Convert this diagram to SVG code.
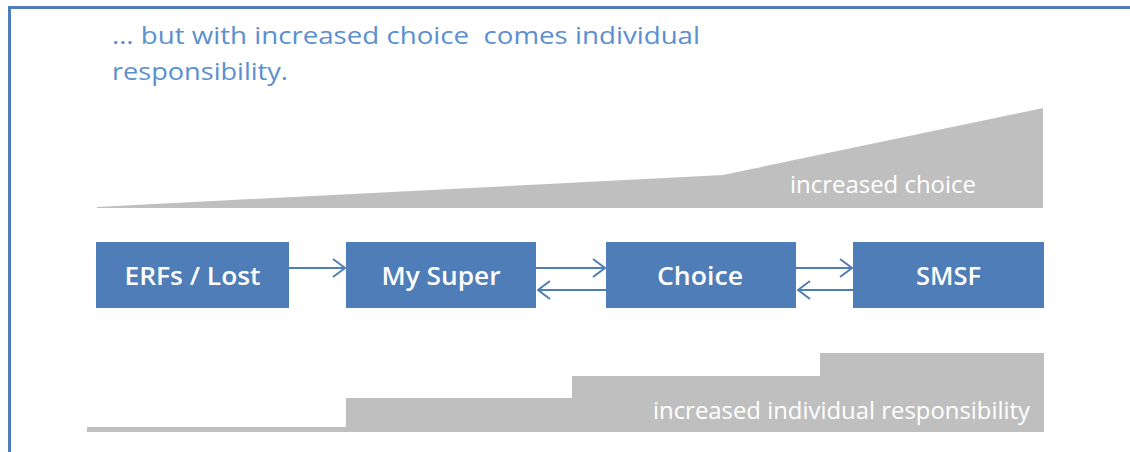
<svg xmlns="http://www.w3.org/2000/svg" width="1130" height="452" viewBox="0 0 1130 452">
<style>
.box{fill:#4f7db8}
.bt{font-family:"Open Sans","Liberation Sans",sans-serif;font-size:26px;font-weight:600;fill:#ffffff;text-anchor:middle}
.gt{font-family:"Open Sans","Liberation Sans",sans-serif;font-size:24px;fill:#ffffff}
.gray{fill:#bfbfbf}
.title{font-family:"Open Sans","Liberation Sans",sans-serif;font-size:24px;fill:#5b8fd0}
.conn{stroke:#4f7db8;stroke-width:2;fill:none;marker-end:url(#chev)}
</style>
<defs>
<marker id="chev" viewBox="0 0 14 20" refX="13" refY="10" markerWidth="14" markerHeight="20" markerUnits="userSpaceOnUse" orient="auto">
<path d="M1,1 L13,10 L1,19" fill="none" stroke="#4f7db8" stroke-width="2"/>
</marker>
</defs>
<rect x="0" y="0" width="1130" height="452" fill="#ffffff"/>
<path d="M9.5,460 L9.5,7.5 L1140,7.5" fill="none" stroke="#4f7db8" stroke-width="3"/>
<g id="title">
<text class="title" x="112" y="44" textLength="588" lengthAdjust="spacingAndGlyphs">… but with increased choice&#160; comes individual</text>
<text class="title" x="112" y="80" textLength="176" lengthAdjust="spacingAndGlyphs">responsibility.</text>
</g>
<g id="choice-wedge">
<polygon class="gray" points="97,207 723,175 1043,108 1043,208 97,208"/>
<text class="gt" x="790" y="193" textLength="186" lengthAdjust="spacingAndGlyphs">increased choice</text>
</g>
<g id="responsibility-steps">
<polygon class="gray" points="87,427 346,427 346,398 572,398 572,376 820,376 820,353 1044,353 1044,432 87,432"/>
<text class="gt" x="653" y="419" textLength="377" lengthAdjust="spacingAndGlyphs">increased individual responsibility</text>
</g>
<g id="node-erfs">
<rect class="box" x="96" y="242" width="193" height="66"/>
<text class="bt" x="192.5" y="285" textLength="136" lengthAdjust="spacingAndGlyphs">ERFs / Lost</text>
</g>
<g id="node-mysuper">
<rect class="box" x="346" y="242" width="190" height="66"/>
<text class="bt" x="441" y="285" textLength="119" lengthAdjust="spacingAndGlyphs">My Super</text>
</g>
<g id="node-choice">
<rect class="box" x="606" y="242" width="190" height="66"/>
<text class="bt" x="700" y="285" textLength="86" lengthAdjust="spacingAndGlyphs">Choice</text>
</g>
<g id="node-smsf">
<rect class="box" x="853" y="242" width="191" height="66"/>
<text class="bt" x="948.5" y="285" textLength="65" lengthAdjust="spacingAndGlyphs">SMSF</text>
</g>
<g id="connectors">
<line class="conn" x1="289" y1="268" x2="345" y2="268"/>
<line class="conn" x1="536" y1="268" x2="605" y2="268"/>
<line class="conn" x1="606" y1="290" x2="538" y2="290"/>
<line class="conn" x1="796" y1="268" x2="852" y2="268"/>
<line class="conn" x1="853" y1="290" x2="798" y2="290"/>
</g>
</svg>
